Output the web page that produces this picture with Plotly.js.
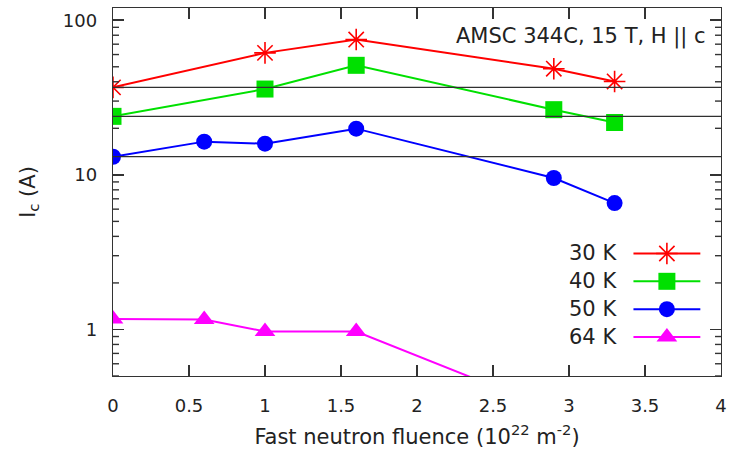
<!DOCTYPE html>
<html>
<head>
<meta charset="utf-8">
<script src="https://cdn.plot.ly/plotly-3.0.1.min.js"></script>
<style>html,body{margin:0;padding:0;background:#fff;}#chart{width:730px;height:456px;}</style>
</head>
<body>
<div id="chart"></div>
<script>
// ---- data ----
const seriesNames = ['30 K', '40 K', '50 K', '64 K'];
const fluence30 = [0, 1, 1.6, 2.9, 3.3];
const ic30 = [36.8, 61.5, 75, 48.6, 40.2];
const fluence40 = [0, 1, 1.6, 2.9, 3.3];
const ic40 = [23.9, 35.9, 51.1, 26.4, 21.8];
const fluence50 = [0, 0.6, 1, 1.6, 2.9, 3.3];
const ic50 = [13.1, 16.4, 15.9, 19.9, 9.54, 6.57];
const fluence64 = [0, 0.6, 1, 1.6, 2.9];
const ic64 = [1.17, 1.16, 0.97, 0.97, 0.30];
const xTickVals = [0, 0.5, 1, 1.5, 2, 2.5, 3, 3.5, 4];
const yTickVals = [1, 10, 100];
const yTickText = ['1', '10', '100'];
const noteText = 'AMSC 344C, 15 T, H || c';

// ---- styles ----
const FONT = 'DejaVu Sans, Verdana, sans-serif';
const TXT = '#222222';
const AX = '#333333';
const colors = ['#ff0000', '#00e000', '#0000ff', '#ff00ff'];
const symbols = ['asterisk-open', 'square', 'circle', 'triangle-up'];
const msize = [18, 17, 16, 18];
const mlw = [1.6, 0, 0, 0];
const xs = [fluence30, fluence40, fluence50, fluence64];
const ys = [ic30, ic40, ic50, ic64];
const XR = [0, 4];
const YR = [Math.log10(0.5), Math.log10(120)];
const MAJ = 11, MIN = 6, TW = 1.8;
const PLOT_H = 456 - 8 - 80;

const shapes = [];
function yTick(v, len) {
  shapes.push({type: 'line', xref: 'paper', yref: 'y', xsizemode: 'pixel', xanchor: 0,
    x0: 0, x1: len, y0: v, y1: v, line: {color: AX, width: 1.4}, layer: 'above'});
  shapes.push({type: 'line', xref: 'paper', yref: 'y', xsizemode: 'pixel', xanchor: 1,
    x0: -len, x1: 0, y0: v, y1: v, line: {color: AX, width: 1.4}, layer: 'above'});
}
// log minor ticks
for (let d = -1; d <= 2; d++) {
  for (let m = 2; m <= 9; m++) {
    const v = m * Math.pow(10, d);
    if (v >= 0.5 && v <= 120) yTick(v, MIN);
  }
}

// reference lines at zero-fluence values (30, 40, 50 K)
[0, 1, 2].forEach(i => shapes.push({
  type: 'line', xref: 'x', yref: 'y', x0: XR[0], x1: XR[1], y0: ys[i][0], y1: ys[i][0],
  line: {color: '#303030', width: 1.2}, layer: 'above'
}));

const traces = [];
// inside x ticks on bottom and top borders (drawn from the tick values)
const tickFrac = MAJ / PLOT_H;
const tb0 = Math.pow(10, YR[0]), tb1 = Math.pow(10, YR[0] + tickFrac * (YR[1] - YR[0]));
const tt0 = Math.pow(10, YR[1] - tickFrac * (YR[1] - YR[0])), tt1 = Math.pow(10, YR[1]);
const tkx = [], tky = [];
xTickVals.slice(1, -1).forEach(v => {
  tkx.push(v, v, null, v, v, null);
  tky.push(tb0, tb1, null, tt0, tt1, null);
});
traces.push({x: tkx, y: tky, mode: 'lines', showlegend: false, hoverinfo: 'skip',
  connectgaps: false, line: {color: AX, width: 2}});

for (let i = 0; i < 4; i++) {
  traces.push({
    x: xs[i], y: ys[i], mode: 'lines+markers', name: seriesNames[i],
    showlegend: false, cliponaxis: true,
    line: {color: colors[i], width: 2},
    marker: {symbol: symbols[i], size: msize[i], color: colors[i], opacity: 1,
             line: {color: colors[i], width: mlw[i]}}
  });
}

// custom gnuplot-style legend (text left of sample), positioned in plot fractions
const legTop = 0.333, legStep = 0.0757;
const lx0 = 0.856, lx1 = 0.966, ltext = 0.833;
const fx = f => XR[0] + f * (XR[1] - XR[0]);
const fy = f => Math.pow(10, YR[0] + f * (YR[1] - YR[0]));
const annotations = [{
  xref: 'paper', yref: 'paper', x: 0.978, y: 0.922, xanchor: 'right', yanchor: 'middle',
  text: noteText, showarrow: false, font: {family: FONT, size: 21, color: TXT}
}];
for (let i = 0; i < 4; i++) {
  const yy = legTop - i * legStep;
  traces.push({
    x: [fx(lx0), fx((lx0 + lx1) / 2), fx(lx1)], y: [fy(yy), fy(yy), fy(yy)],
    mode: 'lines+markers', showlegend: false, hoverinfo: 'skip',
    line: {color: colors[i], width: 2},
    marker: {symbol: symbols[i], size: [0, msize[i], 0], color: colors[i], opacity: 1,
             line: {color: colors[i], width: mlw[i]}}
  });
  annotations.push({
    xref: 'paper', yref: 'paper', x: ltext, y: yy, xanchor: 'right', yanchor: 'middle',
    text: seriesNames[i], showarrow: false, font: {family: FONT, size: 21, color: TXT}
  });
}

const layout = {
  width: 730, height: 456,
  margin: {l: 113, r: 9, t: 8, b: 80},
  paper_bgcolor: '#ffffff', plot_bgcolor: '#ffffff',
  font: {family: FONT, size: 18, color: TXT},
  showlegend: false,
  xaxis: {
    range: XR, tickmode: 'array', tickvals: xTickVals,
    ticks: 'inside', ticklen: MAJ, tickwidth: TW, tickcolor: AX,
    showline: true, linecolor: AX, linewidth: 1.3, mirror: 'ticks',
    showgrid: false, zeroline: false, ticklabelstandoff: 13,
    tickfont: {family: FONT, size: 18, color: TXT},
    title: {text: 'Fast neutron fluence (10<sup>22</sup> m<sup>-2</sup>)',
            font: {family: FONT, size: 21, color: TXT}, standoff: 14}
  },
  yaxis: {
    type: 'log', range: YR,
    tickmode: 'array', tickvals: yTickVals, ticktext: yTickText,
    ticks: 'inside', ticklen: MAJ, tickwidth: TW, tickcolor: AX,
    showline: true, linecolor: AX, linewidth: 1.3, mirror: 'ticks',
    showgrid: false, zeroline: false, ticklabelstandoff: 11,
    tickfont: {family: FONT, size: 18, color: TXT},
    title: {text: 'I<sub>c</sub> (A)', font: {family: FONT, size: 21, color: TXT}, standoff: 21}
  },
  shapes: shapes,
  annotations: annotations
};

Plotly.newPlot('chart', traces, layout, {displayModeBar: false, staticPlot: true});
</script>
</body>
</html>
